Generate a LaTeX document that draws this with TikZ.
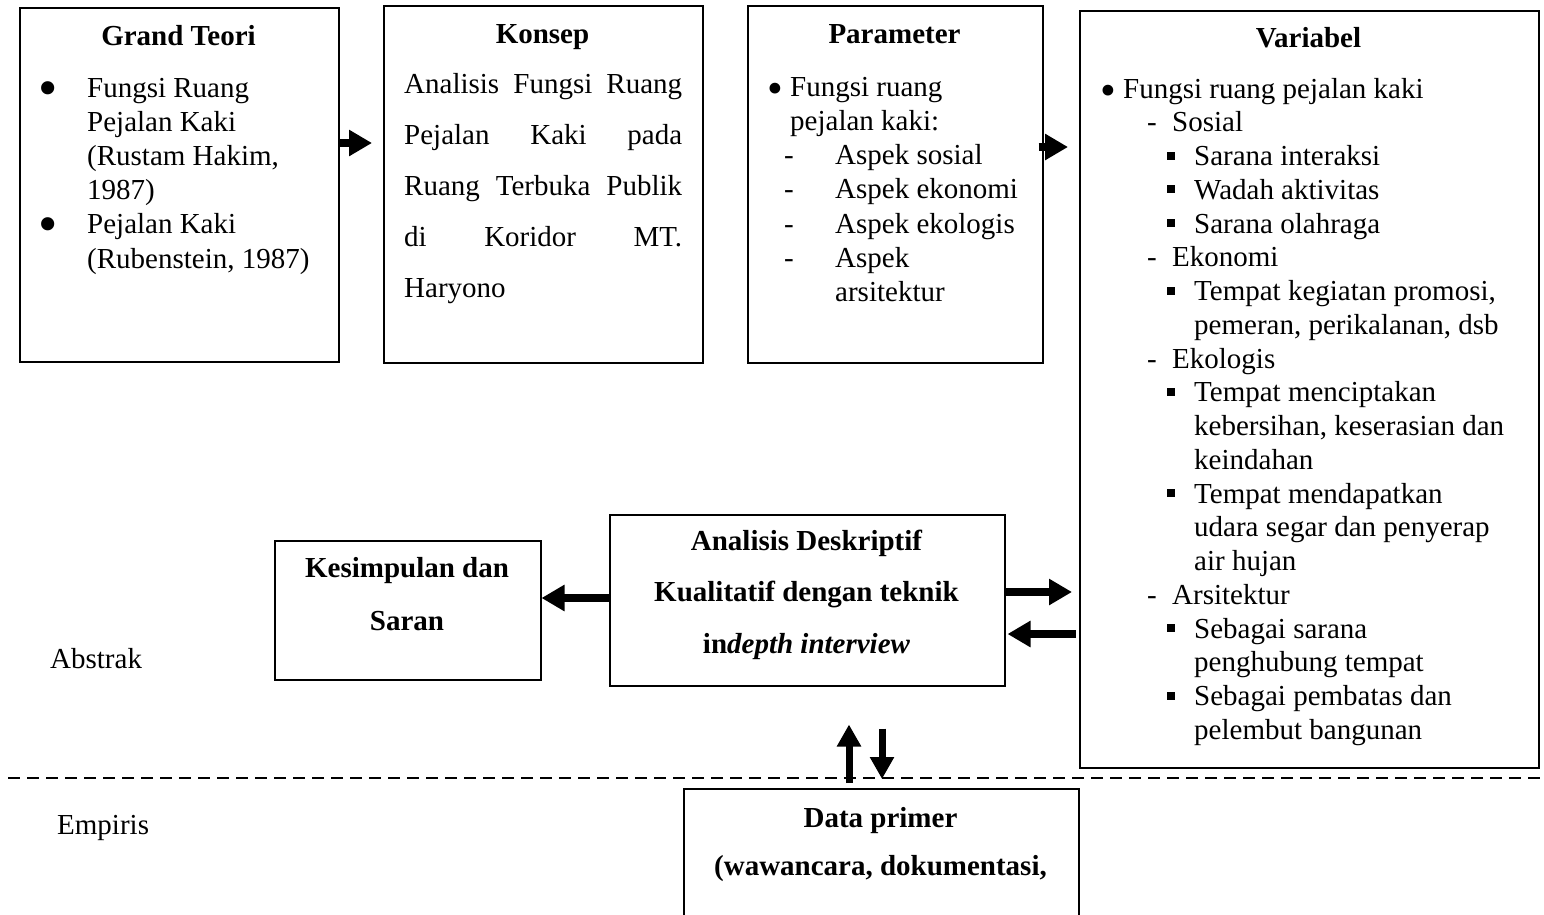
\documentclass[tikz,border=0pt]{standalone}
\usepackage{fontspec}
\setmainfont{Liberation Serif}
\usetikzlibrary{arrows.meta,calc}

% text helpers
\newcommand\bodyfont{\fontsize{29}{33.75}\selectfont}
\newcommand\Row[4]{\hbox{\hskip#1\relax\makebox[#2][l]{#3}#4}}
\newcommand\Lines[2]{\vtop{\baselineskip=#1\relax#2}}
\newcommand\Centred[2]{\vtop{\baselineskip=#1\relax\halign{\hfil##\hfil\cr#2\crcr}}}
\newcommand\sqbullet{\raisebox{6pt}{\rule{8pt}{8pt}}}
\newcommand\bigdot{\raisebox{-9pt}{\scalebox{1.9}{•}}}
\newcommand\middot{\raisebox{-7.5pt}{\scalebox{1.55}{•}}}

\begin{document}
\begin{tikzpicture}[x=1pt,y=-1pt,
  box/.style={draw, line width=1.5pt, inner sep=0pt, anchor=north west},
  txt/.style={inner sep=0pt, anchor=base west, font=\bodyfont},
  ttl/.style={inner sep=0pt, anchor=base, font=\bodyfont\bfseries},
  arr/.style={line width=8pt, -{Triangle[width=25pt,length=23pt]}},
  varr/.style={line width=7pt, -{Triangle[width=23pt,length=22pt]}},
  divider/.style={line width=1.5pt, dash pattern=on 12pt off 7pt}]
\useasboundingbox (0,0) rectangle (1544,914);

% boxes
\node[box, minimum width=319pt, minimum height=354pt] (g) at (19,7) {};
\node[box, minimum width=319pt, minimum height=357pt] (k) at (383,5) {};
\node[box, minimum width=295pt, minimum height=357pt] (p) at (747,5) {};
\node[box, minimum width=459pt, minimum height=757pt] (v) at (1079,10) {};
\node[box, minimum width=266pt, minimum height=139pt] (kes) at (274,540) {};
\node[box, minimum width=395pt, minimum height=171pt] (a) at (609,514) {};
\node[box, minimum width=395pt, minimum height=170pt] (d) at (683,788) {};

% divider between the abstract and empirical levels
\coordinate (divL) at (8,778);
\coordinate (divR) at (1544,778);
\draw[divider] (divL) -- (divR);

% Grand Teori
\node[ttl] (gT) at (178.5,45) {Grand Teori};
\node[txt] (gB) at (38,97) {\Lines{34.2pt}{%
 \Row{0pt}{49pt}{\bigdot}{Fungsi Ruang}
 \Row{49pt}{0pt}{}{Pejalan Kaki}
 \Row{49pt}{0pt}{}{(Rustam Hakim,}
 \Row{49pt}{0pt}{}{1987)}
 \Row{0pt}{49pt}{\bigdot}{Pejalan Kaki}
 \Row{49pt}{0pt}{}{(Rubenstein, 1987)}}};

% Konsep
\node[ttl] (kT) at (542.5,43) {Konsep};
\node[txt] (kB) at (404,93) {\Lines{51pt}{%
 \hbox to 278pt{Analisis\hfill Fungsi\hfill Ruang}
 \hbox to 278pt{Pejalan\hfill Kaki\hfill pada}
 \hbox to 278pt{Ruang\hfill Terbuka\hfill Publik}
 \hbox to 278pt{di\hfill Koridor\hfill MT.}
 \hbox{Haryono}}};

% Parameter
\node[ttl] (pT) at (894.5,43) {Parameter};
\node[txt] (pB) at (767,96) {\Lines{34.3pt}{%
 \Row{0pt}{23pt}{\middot}{Fungsi ruang}
 \Row{23pt}{0pt}{}{pejalan kaki:}
 \Row{17pt}{51pt}{-}{Aspek sosial}
 \Row{17pt}{51pt}{-}{Aspek ekonomi}
 \Row{17pt}{51pt}{-}{Aspek ekologis}
 \Row{17pt}{51pt}{-}{Aspek}
 \Row{68pt}{0pt}{}{arsitektur}}};

% Variabel
\node[ttl] (vT) at (1308.5,47) {Variabel};
\node[txt] (vB) at (1100.5,98) {\Lines{33.75pt}{%
 \Row{0pt}{22.5pt}{\middot}{Fungsi ruang pejalan kaki}
 \Row{46.5pt}{25pt}{-}{Sosial}
 \Row{66.5pt}{27pt}{\sqbullet}{Sarana interaksi}
 \Row{66.5pt}{27pt}{\sqbullet}{Wadah aktivitas}
 \Row{66.5pt}{27pt}{\sqbullet}{Sarana olahraga}
 \Row{46.5pt}{25pt}{-}{Ekonomi}
 \Row{66.5pt}{27pt}{\sqbullet}{Tempat kegiatan promosi,}
 \Row{93.5pt}{0pt}{}{pemeran, perikalanan, dsb}
 \Row{46.5pt}{25pt}{-}{Ekologis}
 \Row{66.5pt}{27pt}{\sqbullet}{Tempat menciptakan}
 \Row{93.5pt}{0pt}{}{kebersihan, keserasian dan}
 \Row{93.5pt}{0pt}{}{keindahan}
 \Row{66.5pt}{27pt}{\sqbullet}{Tempat mendapatkan}
 \Row{93.5pt}{0pt}{}{udara segar dan penyerap}
 \Row{93.5pt}{0pt}{}{air hujan}
 \Row{46.5pt}{25pt}{-}{Arsitektur}
 \Row{66.5pt}{27pt}{\sqbullet}{Sebagai sarana}
 \Row{93.5pt}{0pt}{}{penghubung tempat}
 \Row{66.5pt}{27pt}{\sqbullet}{Sebagai pembatas dan}
 \Row{93.5pt}{0pt}{}{pelembut bangunan}}};

% analysis, conclusion and data boxes
\node[ttl] (aT) at (806.5,550) {\Centred{51.5pt}{Analisis Deskriptif\cr Kualitatif dengan teknik\cr in\textit{depth interview}}};
\node[ttl] (kesT) at (407,577) {\Centred{53pt}{Kesimpulan dan\cr Saran}};
\node[ttl] (dT) at (880.5,827) {\Centred{48pt}{Data primer\cr (wawancara, dokumentasi,}};

% level labels
\node[txt] (abs) at (50,668) {Abstrak};
\node[txt] (emp) at (57,834) {Empiris};

% connectors
\draw[arr] (g.east |- 0,143) -- ($(k.west |- 0,143)+(-11,0)$);
\draw[arr] ($(p.east |- 0,147)+(-5,0)$) -- ($(v.west |- 0,147)+(-11,0)$);
\draw[arr] (a.west |- 0,598) -- (kes.east |- 0,598);
\draw[arr] (a.east |- 0,592) -- ($(v.west |- 0,592)+(-7,0)$);
\draw[arr] ($(v.west |- 0,634)+(-3,0)$) -- ($(a.east |- 0,634)+(2,0)$);
\draw[varr] ($(d.north -| 849,0)+(0,-5)$) -- ($(a.south -| 849,0)+(0,38)$);
\draw[varr] ($(a.south -| 882,0)+(0,42)$) -- ($(d.north -| 882,0)+(0,-9)$);
\end{tikzpicture}
\end{document}
